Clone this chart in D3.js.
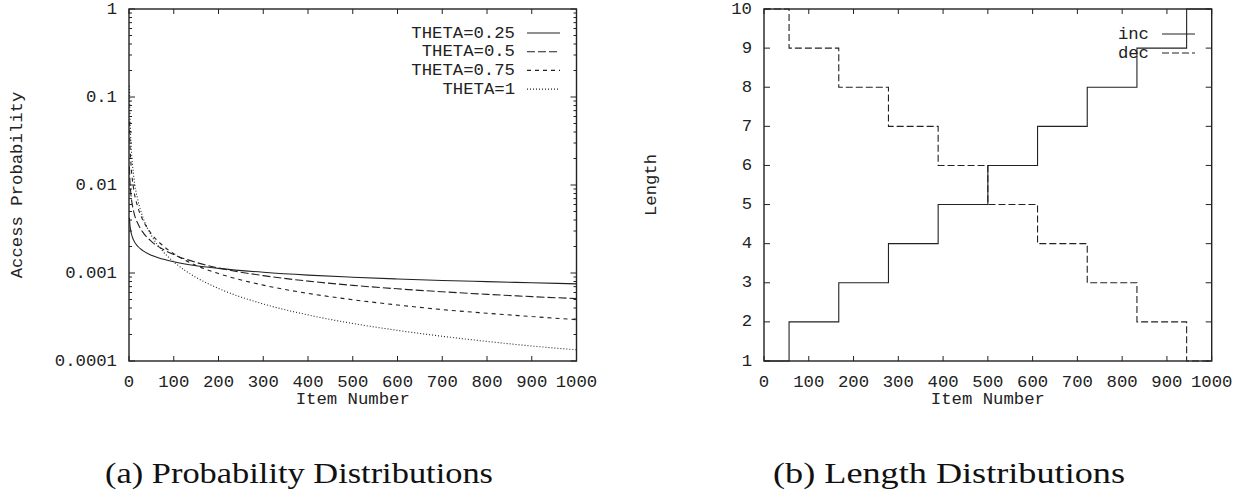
<!DOCTYPE html>
<html>
<head>
<meta charset="utf-8">
<script src="https://cdn.jsdelivr.net/npm/d3@7"></script>
<style>
  body { margin: 0; background: #fff; }
  svg text { fill: #222; }
</style>
</head>
<body>
<script>
// item numbers at which the probability curves were read
const itemNumbers = [1, 2, 3, 5, 10, 20, 30, 50, 75, 100, 150, 200, 300, 400, 500, 600, 700, 800, 900, 1000];

const theta025 = [0.00424, 0.00356, 0.00322, 0.00283, 0.00238, 0.00200, 0.00181, 0.00159, 0.00144, 0.00134,
                  0.00121, 0.00113, 0.00102, 0.000947, 0.000896, 0.000856, 0.000823, 0.000797, 0.000774, 0.000753];
const theta05  = [0.0162, 0.0114, 0.00934, 0.00724, 0.00512, 0.00362, 0.00295, 0.00229, 0.00187, 0.00162,
                  0.00132, 0.00114, 0.000934, 0.000809, 0.000724, 0.000661, 0.000612, 0.000572, 0.000539, 0.000512];
const theta075 = [0.0525, 0.0312, 0.0230, 0.0157, 0.00934, 0.00555, 0.00409, 0.00279, 0.00206, 0.00166,
                  0.00122, 0.000987, 0.000728, 0.000587, 0.000497, 0.000433, 0.000384, 0.000349, 0.000320, 0.000295];
const theta1   = [0.134, 0.0668, 0.0445, 0.0267, 0.0134, 0.00668, 0.00445, 0.00267, 0.00178, 0.00134,
                  0.000891, 0.000668, 0.000445, 0.000334, 0.000267, 0.000223, 0.000191, 0.000167, 0.000148, 0.000134];

const probSeries = [
  { name: "THETA=0.25", values: theta025, dash: null },
  { name: "THETA=0.5",  values: theta05,  dash: "8,3" },
  { name: "THETA=0.75", values: theta075, dash: "4,4" },
  { name: "THETA=1",    values: theta1,   dash: "1,2" }
];

// length distribution: step boundaries and levels
const stepStarts = [0, 56, 167, 278, 389, 500, 611, 722, 833, 944, 1000];
const incLength  = [1, 2, 3, 4, 5, 6, 7, 8, 9, 10, 10];
const decLength  = [10, 9, 8, 7, 6, 5, 4, 3, 2, 1, 1];

const lenSeries = [
  { name: "inc", values: incLength, dash: null },
  { name: "dec", values: decLength, dash: "7,3" }
];

const xTicks = d3.range(0, 1001, 100);
const probTicks = [0.0001, 0.001, 0.01, 0.1, 1];
const lenTicks = d3.range(1, 11);

const W = 1245, H = 494;
const mono = "'Liberation Mono', 'Courier New', monospace";
const fs = 17.3;

const svg = d3.select("body").append("svg")
  .attr("width", W).attr("height", H);

function frame(g, x, y) {
  const [x0, x1] = x.range();
  const [y0, y1] = y.range();
  g.append("rect")
    .attr("x", x0).attr("y", y1)
    .attr("width", x1 - x0).attr("height", y0 - y1)
    .attr("fill", "none").attr("stroke", "#222").attr("stroke-width", 1.4);

  // x ticks on bottom and top, inward
  xTicks.forEach(t => {
    const px = x(t);
    g.append("line").attr("x1", px).attr("x2", px).attr("y1", y0).attr("y2", y0 - 5)
      .attr("stroke", "#222");
    g.append("line").attr("x1", px).attr("x2", px).attr("y1", y1).attr("y2", y1 + 5)
      .attr("stroke", "#222");
    g.append("text")
      .attr("x", px).attr("y", y0 + 26)
      .attr("text-anchor", "middle")
      .style("font-family", mono).style("font-size", fs + "px")
      .text(t);
  });

  g.append("text")
    .attr("x", (x0 + x1) / 2).attr("y", y0 + 43)
    .attr("text-anchor", "middle")
    .style("font-family", mono).style("font-size", fs + "px")
    .text("Item Number");
}

function yTick(g, x, py, len) {
  const [x0, x1] = x.range();
  g.append("line").attr("x1", x0).attr("x2", x0 + len).attr("y1", py).attr("y2", py).attr("stroke", "#222");
  g.append("line").attr("x1", x1).attr("x2", x1 - len).attr("y1", py).attr("y2", py).attr("stroke", "#222");
}

function yLabel(g, x, py, label) {
  g.append("text")
    .attr("x", x.range()[0] - 12).attr("y", py)
    .attr("text-anchor", "end")
    .attr("dominant-baseline", "central")
    .style("font-family", mono).style("font-size", fs + "px")
    .text(label);
}

function legend(g, items, textX, lineX0, lineX1, rowY, gap) {
  items.forEach((s, i) => {
    const yy = rowY + i * gap;
    g.append("text")
      .attr("x", textX).attr("y", yy)
      .attr("text-anchor", "end")
      .attr("dominant-baseline", "central")
      .style("font-family", mono).style("font-size", fs + "px")
      .text(s.name);
    g.append("line")
      .attr("x1", lineX0).attr("x2", lineX1).attr("y1", yy).attr("y2", yy)
      .attr("stroke", "#222").attr("stroke-width", 1.1)
      .attr("stroke-dasharray", s.dash);
  });
}

// ---- (a) probability distributions
const xa = d3.scaleLinear().domain([0, 1000]).range([129, 576.5]);
const ya = d3.scaleLog().domain([0.0001, 1]).range([361, 9]);
const ga = svg.append("g");

probTicks.forEach(t => {
  yTick(ga, xa, ya(t), 6);
  yLabel(ga, xa, ya(t), String(t));
});
probTicks.slice(0, -1).forEach(t => {
  d3.range(2, 10).forEach(m => yTick(ga, xa, ya(t * m), 3));
});

const lineA = d3.line()
  .x(d => xa(d[0]))
  .y(d => ya(d[1]))
  .curve(d3.curveMonotoneX);

probSeries.forEach(s => {
  ga.append("path")
    .datum(itemNumbers.map((n, i) => [n, s.values[i]]))
    .attr("d", lineA)
    .attr("fill", "none")
    .attr("stroke", "#222")
    .attr("stroke-width", 1.1)
    .attr("stroke-dasharray", s.dash);
});

frame(ga, xa, ya);
legend(ga, probSeries, 515, 527, 560, 33, 18.7);

ga.append("text")
  .attr("transform", `translate(17,${(ya.range()[0] + ya.range()[1]) / 2}) rotate(-90)`)
  .attr("text-anchor", "middle")
  .attr("dominant-baseline", "central")
  .style("font-family", mono).style("font-size", fs + "px")
  .text("Access Probability");

// ---- (b) length distributions
const xb = d3.scaleLinear().domain([0, 1000]).range([764, 1211.7]);
const yb = d3.scaleLinear().domain([1, 10]).range([361, 9]);
const gb = svg.append("g");

lenTicks.forEach(t => {
  yTick(gb, xb, yb(t), 6);
  yLabel(gb, xb, yb(t), String(t));
});

const lineB = d3.line()
  .x(d => xb(d[0]))
  .y(d => yb(d[1]))
  .curve(d3.curveStepAfter);

lenSeries.forEach(s => {
  gb.append("path")
    .datum(stepStarts.map((n, i) => [n, s.values[i]]))
    .attr("d", lineB)
    .attr("fill", "none")
    .attr("stroke", "#222")
    .attr("stroke-width", 1.1)
    .attr("stroke-dasharray", s.dash);
});

frame(gb, xb, yb);
legend(gb, lenSeries, 1149, 1162, 1195, 34, 19);

gb.append("text")
  .attr("transform", `translate(651,${(yb.range()[0] + yb.range()[1]) / 2}) rotate(-90)`)
  .attr("text-anchor", "middle")
  .attr("dominant-baseline", "central")
  .style("font-family", mono).style("font-size", fs + "px")
  .text("Length");

// ---- captions
const captions = [
  { text: "(a) Probability Distributions", x: 105, w: 388 },
  { text: "(b) Length Distributions", x: 773, w: 352 }
];
captions.forEach(c => {
  svg.append("text")
    .attr("x", c.x).attr("y", 483)
    .attr("textLength", c.w)
    .attr("lengthAdjust", "spacingAndGlyphs")
    .style("font-family", "'Liberation Serif', 'DejaVu Serif', serif")
    .style("font-size", "30px")
    .style("fill", "#111")
    .text(c.text);
});
</script>
</body>
</html>
